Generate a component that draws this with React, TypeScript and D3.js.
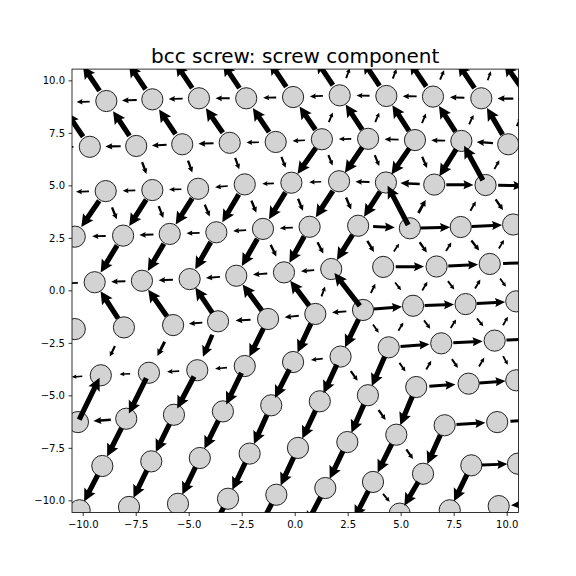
import React from "react";
import * as d3 from "d3";

const W = 576;
const H = 576;
const AX = { left: 72, right: 518.4, top: 69.1, bottom: 512.6 };
const XLIM: [number, number] = [-10.53, 10.53];
const YLIM: [number, number] = [-10.56, 10.56];
const xTicks = [-10, -7.5, -5, -2.5, 0, 2.5, 5, 7.5, 10];
const yTicks = [-10, -7.5, -5, -2.5, 0, 2.5, 5, 7.5, 10];
const TITLE = "bcc screw: screw component";

// Atom columns, row by row (data units). Index of first atom in each row = *Start.
// h  : differential-displacement arrow on the bond to the right neighbour (fraction of bond, + = toward right)
// ul : arrow on the bond to the upper-left neighbour (+ = toward the upper atom)
// ur : arrow on the bond to the upper-right neighbour (+ = toward the upper atom)
const rowZStart = 1;
const rowZx = [-10.33, -8.16, -5.95, -3.72, -1.52, 0.68, 2.88, 5.08, 7.36, 9.53];
const rowZy = [11.18, 11.26, 11.31, 11.31, 11.37, 11.45, 11.42, 11.39, 11.31, 11.31];

const rowAStart = 0;
const rowAx = [-11.1, -8.91, -6.74, -4.54, -2.31, -0.1, 2.1, 4.3, 6.5, 8.78, 11.05];
const rowAy = [8.97, 9.04, 9.12, 9.17, 9.17, 9.23, 9.31, 9.28, 9.25, 9.17, 9.14];
const rowAh = [-0.28, -0.32, -0.3, -0.3, -0.28, -0.28, -0.28, -0.3, -0.3, -0.33];
const rowAul = [0, 0.55, 0.55, 0.55, 0.55, 0.55, 0.55, 0.55, 0.55, 0.55, 0.55];
const rowAur = [0, 0, 0, 0, 0, 0, 0.22, 0.22, 0.22, 0.2, 0];

const rowBStart = 0;
const rowBx = [-11.9, -9.69, -7.5, -5.33, -3.09, -0.92, 1.26, 3.44, 5.65, 7.84, 10.05];
const rowBy = [6.85, 6.86, 6.9, 6.98, 7.05, 7.09, 7.22, 7.24, 7.18, 7.14, 6.98];
const rowBh = [-0.3, -0.33, -0.32, -0.32, -0.27, -0.27, -0.27, -0.3, -0.3, -0.35];
const rowBul = [0, 0.55, 0.55, 0.55, 0.55, 0.55, 0.55, 0.58, 0.58, 0.58, 0.58];
const rowBur = [0, 0, 0, 0, 0, 0, 0.22, 0.22, 0.22, 0.22, 0.2];

const rowCStart = 0;
const rowCx = [-11.13, -8.94, -6.74, -4.58, -2.38, -0.18, 2.07, 4.28, 6.56, 8.98, 11.36];
const rowCy = [4.71, 4.75, 4.8, 4.86, 5.07, 5.15, 5.22, 5.16, 5.06, 5.04, 4.99];
const rowCh = [-0.28, -0.27, -0.27, -0.27, -0.25, -0.25, -0.3, -0.4, 0.53, 0.5];
const rowCul = [0, 0, -0.27, -0.27, -0.27, -0.27, -0.25, -0.25, -0.25, 0.78, 0];
const rowCur = [0, 0, 0, 0, 0, -0.6, -0.6, -0.62, -0.62, 0.22, 0];

const rowDStart = 0;
const rowDx = [-12.6, -10.4, -8.12, -5.92, -3.72, -1.52, 0.68, 2.97, 5.41, 7.81, 10.28];
const rowDy = [2.52, 2.58, 2.63, 2.71, 2.79, 2.95, 3.05, 3.1, 2.98, 3.04, 3.16];
const rowDh = [-0.28, -0.28, -0.3, -0.28, -0.28, -0.28, 0, 0.42, 0.58, 0.58];
const rowDul = [0, -0.27, -0.27, -0.27, -0.27, -0.27, -0.27, -0.27, 0.86, 0, -0.27];
const rowDur = [-0.58, -0.58, -0.58, -0.58, -0.58, -0.58, -0.58, -0.58, 0.3, 0.22, 0];

const rowEStart = 0;
const rowEx = [-11.66, -9.46, -7.23, -4.98, -2.78, -0.53, 1.7, 4.15, 6.67, 9.18, 11.69];
const rowEy = [0.33, 0.41, 0.48, 0.56, 0.72, 0.88, 1.04, 1.14, 1.16, 1.28, 1.37];
const rowEh = [-0.28, -0.3, -0.3, -0.3, -0.3, -0.28, 0, 0.53, 0.56, 0.5];
const rowEul = [0, 0, 0, 0, 0, -0.27, -0.27, -0.27, -0.27, -0.27, 0];
const rowEur = [-0.58, -0.58, -0.58, -0.58, -0.58, -0.58, -0.58, 0.2, 0.22, 0.22, 0];

const rowFStart = 1;
const rowFx = [-10.4, -8.08, -5.76, -3.64, -1.28, 0.95, 3.2, 5.56, 8.04, 10.43];
const rowFy = [-1.82, -1.74, -1.63, -1.45, -1.34, -1.1, -0.91, -0.71, -0.63, -0.5];
const rowFh = [0, 0, -0.3, -0.3, -0.3, -0.3, 0.56, 0.56, 0.56];
const rowFul = [0.6, 0.6, 0.6, 0.6, 0.6, 0.6, 0.8, -0.2, -0.22, -0.22];
const rowFur = [0, 0, 0, 0, 0, 0.22, 0.22, 0.22, 0.22, 0.22];

const rowGStart = 0;
const rowGx = [-11.42, -9.17, -6.9, -4.62, -2.38, -0.1, 2.14, 4.41, 6.89, 9.41, 11.88];
const rowGy = [-4.15, -4.02, -3.9, -3.78, -3.58, -3.39, -3.13, -2.69, -2.5, -2.37, -2.25];
const rowGh = [-0.22, -0.22, -0.25, -0.25, 0, -0.25, 0, 0.55, 0.55, 0.55];
const rowGul = [0, 0, 0, 0, 0, 0, 0, -0.22, -0.22, -0.22, 0];
const rowGur = [0, -0.22, -0.3, -0.45, -0.6, -0.6, -0.6, 0.2, 0.22, 0.22, 0];

const rowHStart = 1;
const rowHx = [-10.25, -7.97, -5.72, -3.41, -1.13, 1.16, 3.43, 5.71, 8.18, 10.43];
const rowHy = [-6.25, -6.09, -5.9, -5.74, -5.45, -5.26, -4.97, -4.58, -4.42, -4.26];
const rowHh = [-0.36, 0, 0, 0, 0, 0, 0, 0.5, 0.55];
const rowHul = [0, 0, 0, 0, 0, 0, -0.25, -0.22, -0.22, -0.22];
const rowHur = [0.89, -0.77, -0.72, -0.7, -0.66, -0.64, -0.62, 0.2, 0.2, 0.2];

const rowIStart = 1;
const rowIx = [-9.1, -6.79, -4.5, -2.15, 0.13, 2.46, 4.77, 7.05, 9.53, 12.02];
const rowIy = [-8.34, -8.12, -7.96, -7.75, -7.48, -7.2, -6.85, -6.4, -6.25, -6.1];
const rowIh = [0, 0, 0, 0, 0, 0, 0, 0.55, 0.5];
const rowIul = [0, 0, 0, 0, 0, 0, -0.25, 0, 0, 0];
const rowIur = [-0.6, -0.6, -0.6, -0.6, -0.6, -0.6, -0.6, 0, 0, 0];

const rowJStart = 1;
const rowJx = [-10.17, -7.84, -5.53, -3.17, -0.89, 1.42, 3.67, 6.03, 8.31, 10.51];
const rowJy = [-10.45, -10.29, -10.14, -9.9, -9.71, -9.39, -9.1, -8.71, -8.31, -8.23];
const rowJh = [0, 0, 0, 0, 0, 0, 0, 0, 0.55];
const rowJul = [0, 0, 0, 0, 0, 0, 0, -0.25, 0, 0];
const rowJur = [-0.6, -0.6, -0.6, -0.6, -0.6, -0.6, -0.6, -0.6, 0, 0];

const rowKStart = 3;
const rowKx = [-4.25, -1.99, 0.32, 2.58, 4.93, 7.29, 9.6, 11.92];
const rowKy = [-12.05, -11.86, -11.53, -11.24, -10.61, -10.45, -10.25, -10.1];
const rowKh = [0, 0, 0, 0, 0, 0, -0.5];
const rowKul = [0, 0, 0, 0, -0.25, 0, 0, 0];
const rowKur = [-0.6, -0.6, -0.6, -0.6, -0.6, -0.6, 0, 0];

type Row = {
  name: string; start: number; xs: number[]; ys: number[];
  h: number[]; ul: number[]; ur: number[]; upper: string | null; shift: number;
};

const rows: Row[] = [
  { name: "Z", start: rowZStart, xs: rowZx, ys: rowZy, h: [], ul: [], ur: [], upper: null, shift: 0 },
  { name: "A", start: rowAStart, xs: rowAx, ys: rowAy, h: rowAh, ul: rowAul, ur: rowAur, upper: "Z", shift: 0 },
  { name: "B", start: rowBStart, xs: rowBx, ys: rowBy, h: rowBh, ul: rowBul, ur: rowBur, upper: "A", shift: -1 },
  { name: "C", start: rowCStart, xs: rowCx, ys: rowCy, h: rowCh, ul: rowCul, ur: rowCur, upper: "B", shift: 0 },
  { name: "D", start: rowDStart, xs: rowDx, ys: rowDy, h: rowDh, ul: rowDul, ur: rowDur, upper: "C", shift: -1 },
  { name: "E", start: rowEStart, xs: rowEx, ys: rowEy, h: rowEh, ul: rowEul, ur: rowEur, upper: "D", shift: 0 },
  { name: "F", start: rowFStart, xs: rowFx, ys: rowFy, h: rowFh, ul: rowFul, ur: rowFur, upper: "E", shift: -1 },
  { name: "G", start: rowGStart, xs: rowGx, ys: rowGy, h: rowGh, ul: rowGul, ur: rowGur, upper: "F", shift: 0 },
  { name: "H", start: rowHStart, xs: rowHx, ys: rowHy, h: rowHh, ul: rowHul, ur: rowHur, upper: "G", shift: -1 },
  { name: "I", start: rowIStart, xs: rowIx, ys: rowIy, h: rowIh, ul: rowIul, ur: rowIur, upper: "H", shift: 0 },
  { name: "J", start: rowJStart, xs: rowJx, ys: rowJy, h: rowJh, ul: rowJul, ur: rowJur, upper: "I", shift: -1 },
  { name: "K", start: rowKStart, xs: rowKx, ys: rowKy, h: rowKh, ul: rowKul, ur: rowKur, upper: "J", shift: 0 },
];

const x = d3.scaleLinear().domain(XLIM).range([AX.left, AX.right]);
const y = d3.scaleLinear().domain(YLIM).range([AX.bottom, AX.top]);

function arrowPoints(from: [number, number], to: [number, number], frac: number, horiz: boolean): string {
  const mx = (from[0] + to[0]) / 2;
  const my = (from[1] + to[1]) / 2;
  const vx = frac * (to[0] - from[0]);
  const vy = frac * (to[1] - from[1]);
  const L = Math.hypot(vx, vy);
  const base = horiz ? { w: 3, hw: 9, hl: 10, ref: 22 } : { w: 5.2, hw: 12.5, hl: 12.5, ref: 28 };
  const s = Math.min(1, L / base.ref);
  const w = base.w * s;
  const hw = base.hw * s;
  const hl = Math.min(base.hl * s, L);
  const ux = vx / L, uy = vy / L;
  const nx = -uy, ny = ux;
  const tx = mx - vx / 2, ty = my - vy / 2;
  const local: [number, number][] = [
    [0, -w / 2], [L - hl * 0.9, -w / 2], [L - hl, -hw / 2], [L, 0],
    [L - hl, hw / 2], [L - hl * 0.9, w / 2], [0, w / 2],
  ];
  return local
    .map(([a, b]) => `${(tx + ux * a + nx * b).toFixed(2)},${(ty + uy * a + ny * b).toFixed(2)}`)
    .join(" ");
}

export default function App() {
  const pos = new Map<string, [number, number]>();
  rows.forEach((r) => r.xs.forEach((vx, i) => pos.set(r.name + (r.start + i), [x(vx), y(r.ys[i])])));

  const atoms: { key: string; p: [number, number] }[] = [];
  pos.forEach((p, key) => atoms.push({ key, p }));

  const arrows: { key: string; pts: string }[] = [];
  rows.forEach((r) => {
    r.xs.forEach((_, i) => {
      const k = r.start + i;
      const me = pos.get(r.name + k)!;
      const add = (toKey: string, frac: number | undefined, horiz: boolean, tag: string) => {
        const to = pos.get(toKey);
        if (!to || !frac) return;
        arrows.push({ key: `${r.name}${k}-${tag}`, pts: arrowPoints(me, to, frac, horiz) });
      };
      add(r.name + (k + 1), r.h[i], true, "h");
      if (r.upper) {
        add(r.upper + (k + r.shift), r.ul[i], false, "ul");
        add(r.upper + (k + r.shift + 1), r.ur[i], false, "ur");
      }
    });
  });

  const fmt = (v: number) => d3.format(".1f")(v).replace("-", "\u2212");
  const font = "DejaVu Sans, Liberation Sans, sans-serif";

  return (
    <div style={{ position: "absolute", left: 0, top: 0, width: W, height: H, background: "#fff" }}>
      <svg width={W} height={H} style={{ display: "block" }}>
        <defs>
          <clipPath id="axclip">
            <rect x={AX.left} y={AX.top} width={AX.right - AX.left} height={AX.bottom - AX.top} />
          </clipPath>
        </defs>
        <rect width={W} height={H} fill="#fff" />
        <g clipPath="url(#axclip)">
          {atoms.map((a) => (
            <circle key={a.key} cx={a.p[0]} cy={a.p[1]} r={10.6} fill="#d3d3d3" stroke="#222" strokeWidth={1} />
          ))}
          {arrows.map((a) => (
            <polygon key={a.key} points={a.pts} fill="#000" stroke="none" />
          ))}
        </g>
        <rect x={AX.left} y={AX.top} width={AX.right - AX.left} height={AX.bottom - AX.top}
          fill="none" stroke="#000" strokeWidth={0.8} />
        {xTicks.map((t) => (
          <g key={"xt" + t}>
            <line x1={x(t)} x2={x(t)} y1={AX.bottom} y2={AX.bottom + 3.5} stroke="#000" strokeWidth={0.8} />
            <text x={x(t)} y={AX.bottom + 15} textAnchor="middle" fontFamily={font} fontSize={10} fill="#000">
              {fmt(t)}
            </text>
          </g>
        ))}
        {yTicks.map((t) => (
          <g key={"yt" + t}>
            <line x1={AX.left - 3.5} x2={AX.left} y1={y(t)} y2={y(t)} stroke="#000" strokeWidth={0.8} />
            <text x={AX.left - 7} y={y(t) + 3.6} textAnchor="end" fontFamily={font} fontSize={10} fill="#000">
              {fmt(t)}
            </text>
          </g>
        ))}
        <text x={(AX.left + AX.right) / 2} y={63} textAnchor="middle" fontFamily={font} fontSize={20} fill="#000">
          {TITLE}
        </text>
      </svg>
    </div>
  );
}
